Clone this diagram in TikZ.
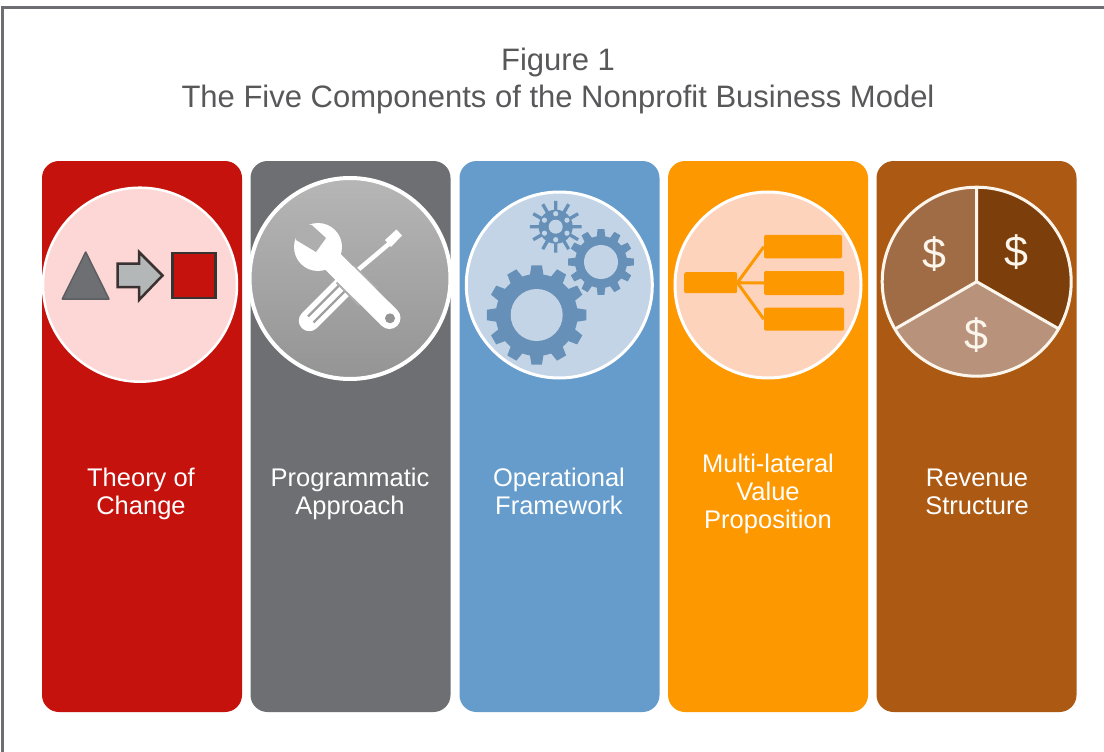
\documentclass[tikz,border=0pt]{standalone}
\usepackage{fontspec}
\setmainfont{Liberation Sans}
\definecolor{cRed}{HTML}{C6120C}
\definecolor{cGray}{HTML}{6D6F73}
\definecolor{cBlue}{HTML}{659CCB}
\definecolor{cOrange}{HTML}{FE9800}
\definecolor{cBrown}{HTML}{AC5A13}
\definecolor{cFrame}{HTML}{6E6E72}
\definecolor{cPink}{HTML}{FCD7D5}
\definecolor{cDiscTop}{HTML}{B6B6B6}
\definecolor{cDiscBot}{HTML}{949494}
\definecolor{cNotch}{HTML}{AEAEAE}
\definecolor{cStripe}{HTML}{A0A0A0}
\definecolor{cPale}{HTML}{C3D4E6}
\definecolor{cPeach}{HTML}{FED3BC}
\definecolor{cGear}{HTML}{6690B7}
\definecolor{cOutline}{HTML}{3A3230}
\definecolor{cArrow}{HTML}{B4B7B7}
\definecolor{cSliceA}{HTML}{A06C46}
\definecolor{cSliceB}{HTML}{7C3F0C}
\definecolor{cSliceC}{HTML}{B8927A}
\definecolor{cCream}{HTML}{FBF5EC}
\definecolor{cTitle}{HTML}{58585A}
\tikzset{
  x=1pt,y=-1pt,
  panel/.style={fill=#1,draw=none,rounded corners=17pt,minimum width=200pt,minimum height=551pt,inner sep=0pt},
  disc/.style={circle,fill=#1,draw=white,line width=3pt,inner sep=0pt},
  title/.style={font=\fontsize{31}{37}\selectfont,text=cTitle,align=center,inner sep=0pt},
  label/.style={font=\fontsize{25.5}{28}\selectfont,text=white,align=center,inner sep=0pt},
  money/.style={font=\fontsize{43}{48}\selectfont,text=cCream,inner sep=0pt},
  orbox/.style={fill=cOrange,rounded corners=2pt,draw=none,inner sep=0pt},
  orline/.style={draw=cOrange,line width=3pt},
  slice/.style={draw=cCream,line width=3pt,line join=round},
}
% x, y, outer radius, root radius, teeth, half tip share, half root share
\newcommand{\gearshape}[7]{%
  \pgfmathsetmacro{\gstep}{360/#5}
  \foreach \gi in {1,...,#5}{
    \pgfmathsetmacro{\ga}{\gi*\gstep}
    \fill[cGear] ({#1+#3*cos(\ga-#6*\gstep)},{#2+#3*sin(\ga-#6*\gstep)})
      -- ({#1+#3*cos(\ga+#6*\gstep)},{#2+#3*sin(\ga+#6*\gstep)})
      -- ({#1+(#4-1)*cos(\ga+#7*\gstep)},{#2+(#4-1)*sin(\ga+#7*\gstep)})
      -- ({#1+(#4-1)*cos(\ga-#7*\gstep)},{#2+(#4-1)*sin(\ga-#7*\gstep)}) -- cycle;
  }
  \fill[cGear] (#1,#2) circle (#4);
}
\begin{document}
\begin{tikzpicture}
\useasboundingbox (0,0) rectangle (1104,752);
\fill[white] (0,0) rectangle (1104,752);
\draw[cFrame,line width=3pt] (2,752) -- (2,7.5) -- (1104,7.5);
\node[title] (head) at (558,82) {\strut Figure 1\\\strut The Five Components of the Nonprofit Business Model};
% panels
\node[panel=cRed] (p1) at (142,436.5) {};
\node[panel=cGray] (p2) at (350.5,436.5) {};
\node[panel=cBlue] (p3) at (559.5,436.5) {};
\node[panel=cOrange] (p4) at (768,436.5) {};
\node[panel=cBrown] (p5) at (976.5,436.5) {};
% circles
\node[disc=cPink,minimum size=194pt,line width=2.5pt] (c1) at (140,284.7) {};
\node[disc=cNotch,minimum size=201pt,line width=4pt,top color=cDiscTop,bottom color=cDiscBot] (c2) at (350,278.5) {};
\node[disc=cPale,minimum size=186pt] (c3) at (559.3,285) {};
\node[disc=cPeach,minimum size=186pt] (c4) at (768,285) {};
% theory of change icons
\fill[cGray,draw=cGray!85!black,line width=1.5pt,line join=round] (85.7,252) -- (109,299) -- (62.3,299) -- cycle;
\draw[cOutline,fill=cArrow,line width=2.5pt,line join=miter] (117.5,263.5) -- (139,263.5) -- (139,252) -- (162.5,275.5) -- (139,300) -- (139,287) -- (117.5,287) -- cycle;
\node[draw=cOutline,fill=cRed,line width=2.8pt,minimum width=43pt,minimum height=45pt,inner sep=0pt] (sq) at (194,275.5) {};
% screwdriver
\draw[white,line width=21pt,line cap=round] (309.3,320.7) -- (350,280);
\draw[cStripe,line width=2.2pt] (308,316.5) -- (340,284.5);
\draw[cStripe,line width=2.2pt] (313.5,322.5) -- (347,289);
\draw[white,line width=4.5pt] (352,275) -- (390,243);
\fill[white] (385,240) -- (396.5,229.5) -- (402,235.5) -- (391,247) -- cycle;
% wrench
\draw[cNotch,line width=26pt] (345,274) -- (368,297);
\draw[white,line width=22pt,line cap=round] (318,247) -- (389.5,318);
\fill[white] (318,247) circle (24);
\fill[cNotch] (311.7,225) -- (326,238) -- (316,252) -- (296,240) -- (293,222) -- cycle;
\fill[cDiscBot] (390,318.3) circle (5);
% gears
\gearshape{536.7}{315}{50}{41}{12}{0.2}{0.33}
\fill[cPale] (536.7,315) circle (26);
\gearshape{601}{262}{33}{26}{12}{0.2}{0.33}
\fill[cPale] (601,262) circle (17);
\gearshape{555.7}{226.7}{26}{17}{12}{0.12}{0.2}
\fill[cPale] (555.7,226.7) circle (7);
\foreach \a in {0,60,...,300}{\fill[cPale] ({555.7+13*cos(\a+30)},{226.7+13*sin(\a+30)}) circle (2.6);}
% tree
\node[orbox,minimum width=53pt,minimum height=21pt] (t0) at (710.7,282.7) {};
\node[orbox,minimum width=78pt,minimum height=23.5pt] (t1) at (803,246.7) {};
\node[orbox,minimum width=80pt,minimum height=24pt] (t2) at (804,283) {};
\node[orbox,minimum width=80pt,minimum height=23pt] (t3) at (804,319.2) {};
\draw[orline] (t0.east) -- (t1.west);
\draw[orline] (t0.east) -- (t2.west);
\draw[orline] (t0.east) -- (t3.west);
% pie
\coordinate (pc) at (976.7,281.7);
\begin{scope}
\clip (pc) circle (94);
\fill[cSliceA] (pc) -- (976.7,100) -- (800,100) -- (800,383.7) -- cycle;
\fill[cSliceB] (pc) -- (976.7,100) -- (1150,100) -- (1150,381.7) -- cycle;
\fill[cSliceC] (pc) -- (800,383.7) -- (800,500) -- (1150,500) -- (1150,381.7) -- cycle;
\end{scope}
\draw[cCream,line width=3pt] (pc) circle (94.5);
\draw[slice] (976.7,187.2) -- (pc) -- (895.5,328.7) (pc) -- (1058.5,328.7);
\node[money] (d1) at (934,254) {\$};
\node[money] (d2) at (1016,252) {\$};
\node[money] (d3) at (976.7,335) {\$};
% labels
\node[label] (l1) at (141,495) {\strut Theory of\\\strut Change};
\node[label] (l2) at (350,495) {\strut Programmatic\\\strut Approach};
\node[label] (l3) at (559,495) {\strut Operational\\\strut Framework};
\node[label] (l4) at (768,495) {\strut Multi-lateral\\\strut Value\\\strut Proposition};
\node[label] (l5) at (977,495) {\strut Revenue\\\strut Structure};
\end{tikzpicture}
\end{document}
